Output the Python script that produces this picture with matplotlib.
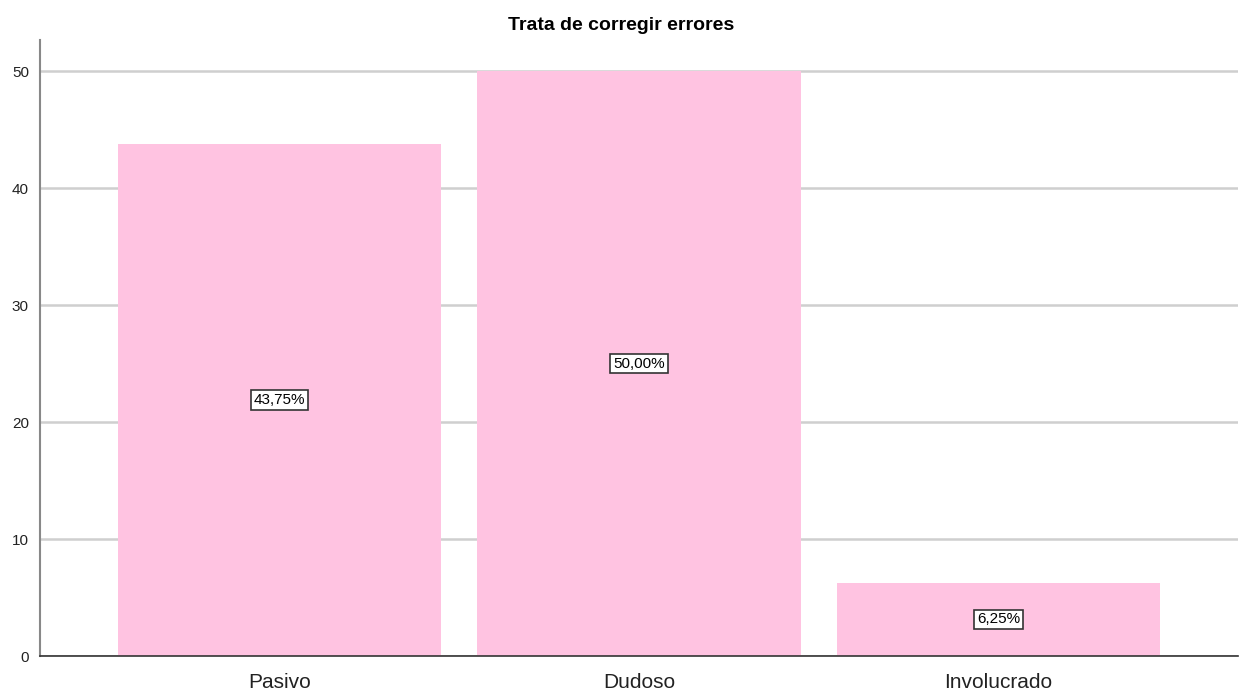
import matplotlib.pyplot as plt

categories = ["Pasivo", "Dudoso", "Involucrado"]
percentages = [43.75, 50.00, 6.25]
labels = ["43,75%", "50,00%", "6,25%"]

fig = plt.figure(figsize=(12.43, 6.92), dpi=100)
ax = fig.add_axes([0.0322, 0.052, 0.9638, 0.890])

x = range(len(categories))
ax.bar(x, percentages, width=0.9, color="#FFC3E1", zorder=2)

# value labels centred in each bar, boxed like SPSS
for i, (v, lab) in enumerate(zip(percentages, labels)):
    ax.text(i, v / 2, lab, ha="center", va="center", fontsize=11,
            family="Liberation Sans", zorder=3,
            bbox=dict(boxstyle="square,pad=0.18", fc="white", ec="#333333", lw=1.2))

ax.set_xlim(-0.667, 2.667)
ax.set_ylim(0, 52.65)
ax.set_yticks([0, 10, 20, 30, 40, 50])
ax.set_xticks(list(x))
ax.set_xticklabels(categories, fontsize=15, family="Liberation Sans", color="#222222")
for t in ax.get_yticklabels():
    t.set_family("Liberation Sans")
    t.set_fontsize(11)
    t.set_color("#222222")
ax.tick_params(axis="both", length=0)
ax.tick_params(axis="x", pad=12)
ax.tick_params(axis="y", pad=8)

ax.yaxis.grid(True, color="#CFCFCF", lw=1.8, zorder=1)
ax.set_axisbelow(True)
for s in ["top", "right"]:
    ax.spines[s].set_visible(False)
ax.spines["left"].set_color("#888888")
ax.spines["left"].set_linewidth(1.5)
ax.spines["bottom"].set_color("#333333")
ax.spines["bottom"].set_linewidth(1.2)

fig.suptitle("Trata de corregir errores", y=0.975, fontsize=14, fontweight="bold",
             family="Liberation Sans")

fig.savefig("out.png", dpi=100)
